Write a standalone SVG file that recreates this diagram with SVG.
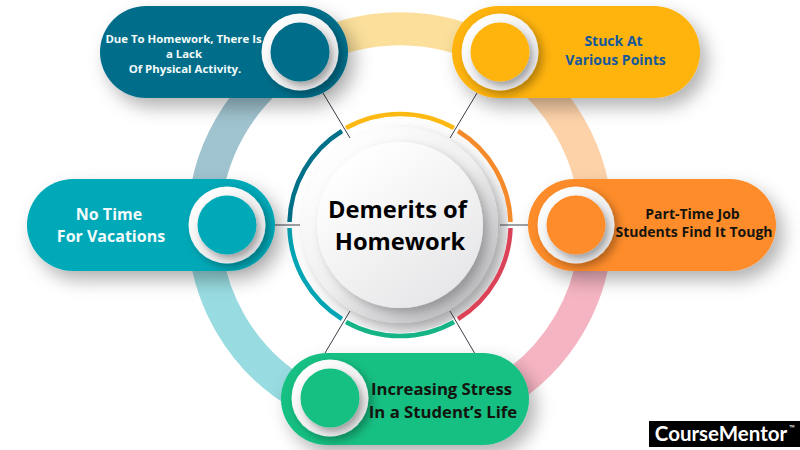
<svg xmlns="http://www.w3.org/2000/svg" width="800" height="450" viewBox="0 0 800 450">
<style>
.band{fill:none;stroke-width:33}
.seg{fill:none;stroke-width:4.5}
.conn{stroke:#3a4048;stroke-width:1;fill:none}
.pill{filter:url(#pillShadow)}
.halo{fill:url(#haloGrad);filter:url(#ringShadow)}
.dot{filter:url(#dotShadow)}
text{font-family:"Open Sans","Noto Sans",sans-serif;font-weight:700;text-anchor:middle}
.white{fill:#f4fbfc}
.dark{fill:#14140f}
</style>
<defs>
<filter id="pillShadow" x="-20%" y="-40%" width="145%" height="190%"><feDropShadow dx="7" dy="9" stdDeviation="9" flood-color="#000" flood-opacity=".3"/></filter>
<filter id="ringShadow" x="-40%" y="-40%" width="190%" height="190%"><feDropShadow dx="4" dy="4" stdDeviation="4" flood-color="#000" flood-opacity=".3"/></filter>
<filter id="dotShadow" x="-40%" y="-40%" width="190%" height="190%"><feDropShadow dx="3" dy="4" stdDeviation="3" flood-color="#000" flood-opacity=".3"/></filter>
<filter id="discShadow" x="-30%" y="-30%" width="170%" height="170%"><feDropShadow dx="5" dy="5" stdDeviation="5" flood-color="#000" flood-opacity=".25"/></filter>
<linearGradient id="haloGrad" x1="0.15" y1="0.1" x2="0.85" y2="0.9"><stop offset="0" stop-color="#fff"/><stop offset="1" stop-color="#e2e2e4"/></linearGradient>
<linearGradient id="discA" x1="0.15" y1="0.1" x2="0.85" y2="0.9"><stop offset="0" stop-color="#fff"/><stop offset=".55" stop-color="#f8f8f9"/><stop offset="1" stop-color="#dcdcde"/></linearGradient>
<linearGradient id="discB" x1="0.15" y1="0.1" x2="0.85" y2="0.9"><stop offset="0" stop-color="#fff"/><stop offset=".5" stop-color="#efeff0"/><stop offset="1" stop-color="#bdbdc0"/></linearGradient>
<linearGradient id="discC" x1="0.2" y1="0.1" x2="0.8" y2="0.95"><stop offset="0" stop-color="#fff"/><stop offset="1" stop-color="#e6e6e8"/></linearGradient>
</defs>
<rect width="800" height="450" fill="#fff"/>
<g id="ring-bands">
<path class="band" stroke="#fbdf9b" d="M302 55A196 196 0 0 1 498 55"/>
<path class="band" stroke="#fdd2a9" d="M498 55A196 196 0 0 1 596 225"/>
<path class="band" stroke="#f5b4c1" d="M596 225A196 196 0 0 1 498 395"/>
<path class="band" stroke="#98dbe0" d="M302 395A196 196 0 0 1 204 225"/>
<path class="band" stroke="#9fc3cf" d="M204 225A196 196 0 0 1 302 55"/>
</g>
<g id="center">
<circle cx="400" cy="225" r="108" fill="url(#discA)"/>
<circle cx="400" cy="225" r="98" fill="url(#discB)" filter="url(#discShadow)"/>
<circle cx="400" cy="225" r="83" fill="url(#discC)" filter="url(#discShadow)"/>
<g id="center-arcs">
<path class="seg" stroke="#007189" d="M289.500 222A110.500 110.500 0 0 1 342 131"/>
<path class="seg" stroke="#fdb913" d="M346 128A110.500 110.500 0 0 1 454 128"/>
<path class="seg" stroke="#f58a2a" d="M458 131A110.500 110.500 0 0 1 510.500 222"/>
<path class="seg" stroke="#dc4257" d="M510.500 228A110.500 110.500 0 0 1 458 319"/>
<path class="seg" stroke="#16b386" d="M454 322A110.500 110.500 0 0 1 346 322"/>
<path class="seg" stroke="#03a5b5" d="M342 319A110.500 110.500 0 0 1 289.500 228"/>
</g>
<text font-size="23.700" x="397.500" y="218" fill="#000">Demerits of</text>
<text font-size="23.700" x="400" y="250" fill="#000">Homework</text>
</g>
<g id="connectors">
<path class="conn" d="M323 93L350 138M477 93L450 138M274 225H300M500 225H528M350 311L325 353M450 311L474.500 353"/>
</g>
<g id="node-physical">
<rect class="pill" x="100" y="6" width="248" height="92" rx="46" fill="#006e8a"/>
<circle class="halo" cx="300" cy="52" r="38.500"/>
<circle class="dot" cx="300" cy="52" r="29.500" fill="#006e8a"/>
<text class="white" font-size="11.400" x="183.500" y="43">Due To Homework, There Is</text>
<text class="white" font-size="11.400" x="184" y="58">a Lack</text>
<text class="white" font-size="11.400" x="185" y="73">Of Physical Activity.</text>
</g>
<g id="node-stuck">
<rect class="pill" x="452" y="6" width="248" height="92" rx="46" fill="#feb30f"/>
<circle class="halo" cx="500" cy="52" r="38.500"/>
<circle class="dot" cx="500" cy="52" r="29.500" fill="#feb30f"/>
<text font-size="14" x="613.500" y="46" fill="#15589c">Stuck At</text>
<text font-size="14" x="615.500" y="65" fill="#15589c">Various Points</text>
</g>
<g id="node-vacations">
<rect class="pill" x="27" y="179" width="248" height="92" rx="46" fill="#02a9b8"/>
<circle class="halo" cx="227" cy="225" r="38.500"/>
<circle class="dot" cx="227" cy="225" r="29.500" fill="#02a9b8"/>
<text class="white" font-size="16" x="109" y="220">No Time</text>
<text class="white" font-size="16" x="111" y="242">For Vacations</text>
</g>
<g id="node-parttime">
<rect class="pill" x="528" y="179" width="248" height="92" rx="46" fill="#fe8c2b"/>
<circle class="halo" cx="576" cy="225" r="38.500"/>
<circle class="dot" cx="576" cy="225" r="29.500" fill="#fe8c2b"/>
<text class="dark" font-size="14" x="692.500" y="219">Part-Time Job</text>
<text class="dark" font-size="14" x="694" y="237">Students Find It Tough</text>
</g>
<g id="node-stress">
<rect class="pill" x="281" y="353" width="248" height="92" rx="46" fill="#14bf82"/>
<circle class="halo" cx="330" cy="398" r="38.500"/>
<circle class="dot" cx="330" cy="398" r="29.500" fill="#14bf82"/>
<text class="dark" font-size="16.700" x="441.500" y="395">Increasing Stress</text>
<text class="dark" font-size="16.700" x="443" y="418">In a Student’s Life</text>
</g>
<g id="logo">
<rect x="649" y="421" width="151" height="26" fill="#000"/>
<text x="721" y="441" font-size="20.500" fill="#fff" style="font-family:'Lato','Open Sans',sans-serif;font-weight:700">CourseMentor</text>
<text x="792" y="430" font-size="7" fill="#fff">™</text>
</g>
</svg>
